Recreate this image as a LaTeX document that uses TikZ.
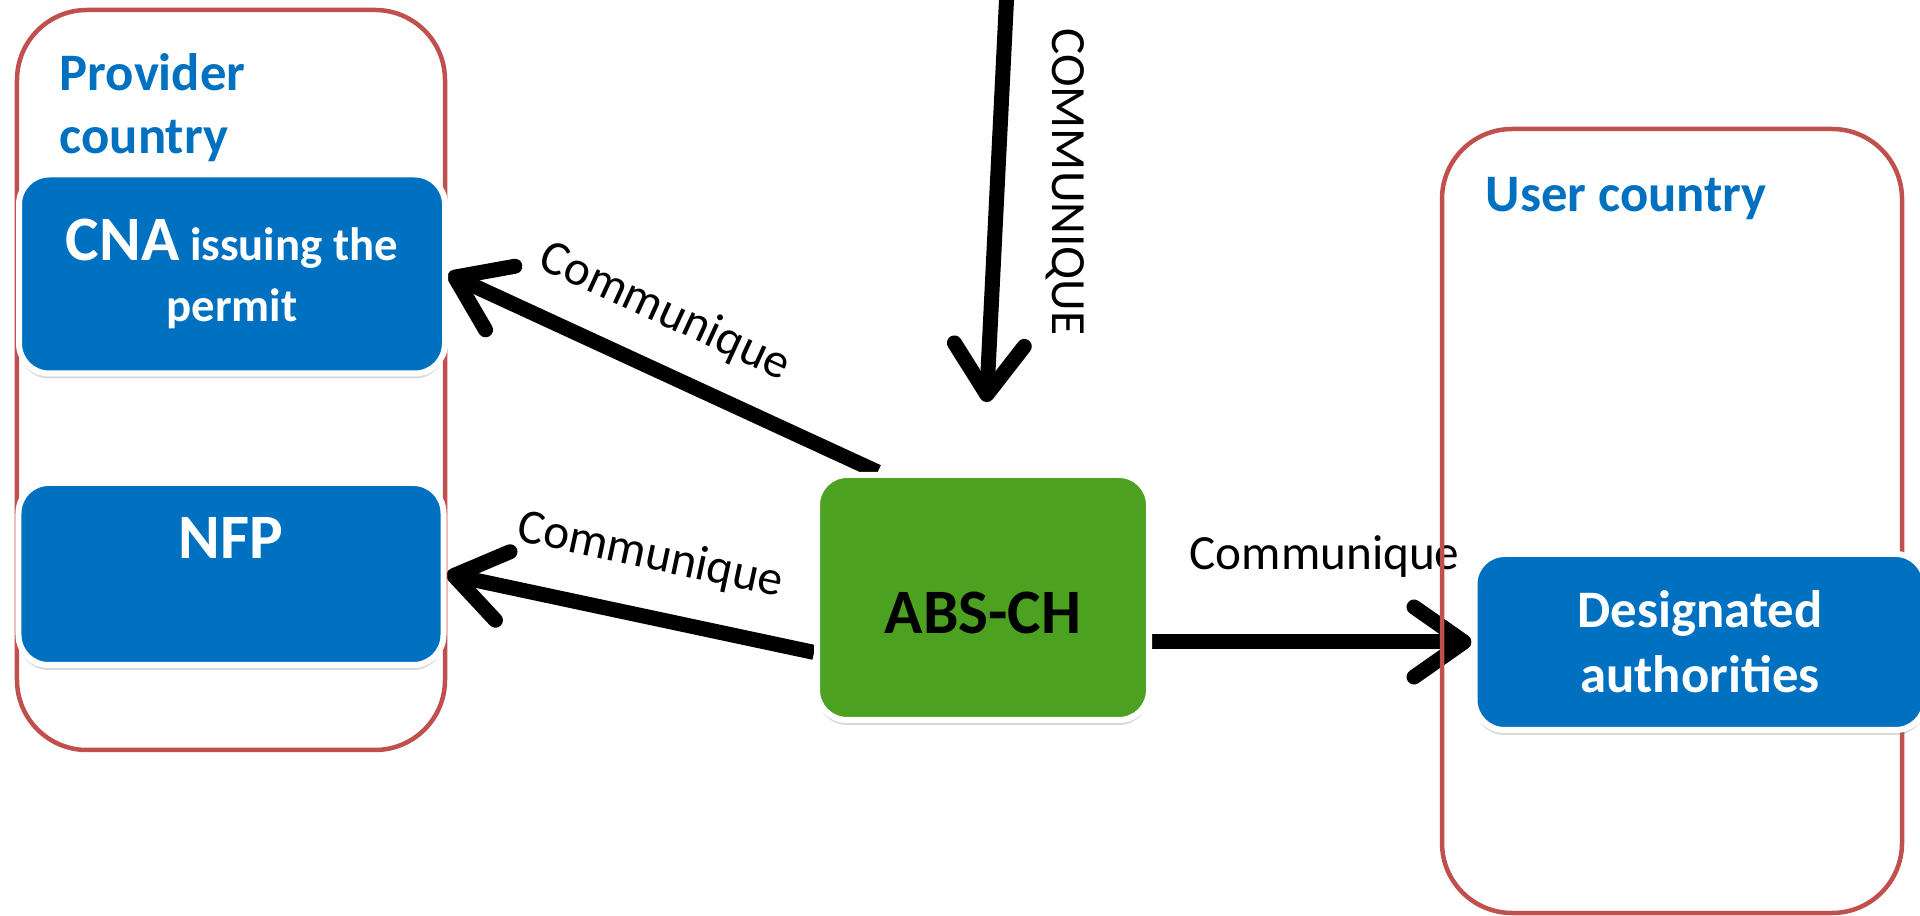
\documentclass[tikz,border=0pt]{standalone}
\usepackage{fontspec}
\setmainfont{Carlito}
\usetikzlibrary{arrows.meta, positioning, shadows, backgrounds}
\definecolor{absblue}{RGB}{0,112,192}
\definecolor{absgreen}{RGB}{77,161,33}
\definecolor{absred}{RGB}{192,80,77}

\begin{document}
\begin{tikzpicture}[
    country/.style={draw=absred, line width=0.45mm, rounded corners=0.7cm},
    actor/.style={draw=white, line width=0.6mm, rounded corners=0.3cm,
        drop shadow={shadow xshift=0pt, shadow yshift=-0.5mm, opacity=0.3}},
    comm/.style={line width=1.5mm, -{Straight Barb[length=5mm, width=7mm, round]}},
    commlabel/.style={font=\fontsize{14}{17}\selectfont},
    headtext/.style={font=\bfseries\fontsize{15}{18}\selectfont, text=absblue, align=left, inner sep=0pt}
]
\useasboundingbox (0,0) rectangle (19.2,-9.16);

% Countries
\node[country, minimum width=4.28cm, minimum height=7.40cm] (provider) at (2.31,-3.80) {};
\node[headtext, anchor=north west] at (0.59,-0.53) {Provider\\country};

\node[country, minimum width=4.60cm, minimum height=7.84cm] (user) at (16.72,-5.21) {};
\node[headtext, anchor=base west] at (14.85,-2.12) {User country};

% Actors
\node[actor, fill=absblue, minimum width=4.26cm, minimum height=1.99cm, text=white, align=center,
    font=\bfseries\fontsize{13.3}{17.4}\selectfont] (cna) at (2.32,-2.74)
    {{\fontsize{18}{18}\selectfont CNA} issuing the\\permit};

\node[actor, fill=absblue, minimum width=4.25cm, minimum height=1.82cm] (nfp) at (2.31,-5.74) {};
\node[font=\bfseries\fontsize{18}{18}\selectfont, text=white] at ([yshift=-0.58cm]nfp.north) {NFP};

\node[actor, fill=absgreen, minimum width=3.32cm, minimum height=2.45cm] (abs) at (9.83,-5.975) {};
\node[font=\bfseries\fontsize{18}{18}\selectfont] at ([yshift=-0.15cm]abs) {ABS-CH};

\node[actor, fill=absblue, minimum width=4.51cm, minimum height=1.76cm, text=white, align=center,
    font=\bfseries\fontsize{15}{18.5}\selectfont] (des) at (17.0,-6.42) {Designated\\authorities};

% Communication
\begin{scope}[on background layer]
    \draw[comm] (abs.130) -- node[commlabel, pos=0.55, sloped, above=1.6mm] {Communique} (cna.east);
    \draw[comm] (abs.198) -- node[commlabel, pos=0.48, sloped, above=2mm] {Communique} (nfp.east);
    \draw[comm] (abs.east |- des.west) -- node[commlabel, pos=0.54, above=4.5mm] {Communique} (des.west);
    \coordinate (feed) at (10.07,0.1);
    \draw[comm, shorten >=0.7cm] (feed) -- (abs.north);
\end{scope}
\node[commlabel, rotate=-90] at (10.65,-1.82) {COMMUNIQUE};
\end{tikzpicture}
\end{document}
